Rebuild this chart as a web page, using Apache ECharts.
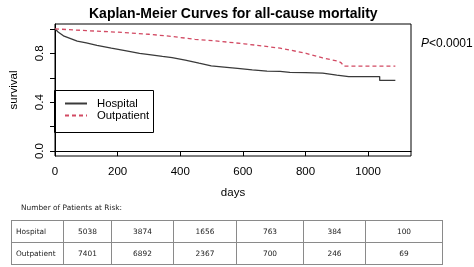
<!DOCTYPE html>
<html>
<head>
<meta charset="utf-8">
<script src="https://cdn.jsdelivr.net/npm/echarts@6/dist/echarts.min.js"></script>
<style>
  html, body { margin: 0; padding: 0; background: #fff; }
  #km_chart { position: absolute; left: 0; top: 0; width: 474px; height: 267px; }
  #risk_title { position: absolute; left: 21px; top: 203px; font: 7.4px "DejaVu Sans", sans-serif; color: #222; }
  #risk_table { position: absolute; left: 11px; top: 220px; border-collapse: collapse; font: 7.4px "DejaVu Sans", sans-serif; color: #222; }
  #risk_table td { border: 1px solid #8a8a8a; height: 21px; padding: 0; text-align: center; }
  #risk_table td.lab { text-align: left; padding-left: 4px; }
</style>
</head>
<body>
<div id="km_chart"></div>
<div id="risk_title">Number of Patients at Risk:</div>
<table id="risk_table"></table>
<script>
// survival curves: [days, survival]
var hospital = [[0, 1.0], [10, 0.975], [29, 0.94], [50, 0.92], [71, 0.90], [100, 0.885], [134, 0.866],
  [180, 0.843], [228, 0.82], [270, 0.80], [301, 0.79], [343, 0.775], [374, 0.765], [416, 0.745],
  [460, 0.72], [499, 0.698], [540, 0.688], [583, 0.677], [630, 0.665], [677, 0.655], [719, 0.652],
  [750, 0.645], [800, 0.642], [855, 0.638], [900, 0.622], [938, 0.61], [1000, 0.61], [1037, 0.61],
  [1037, 0.578], [1087, 0.578]];
var outpatient = [[0, 1.0], [100, 0.986], [200, 0.973], [300, 0.956], [374, 0.938], [447, 0.915],
  [520, 0.90], [604, 0.878], [680, 0.855], [719, 0.842], [750, 0.827], [802, 0.80], [855, 0.762],
  [907, 0.735], [915, 0.72], [922, 0.695], [1087, 0.695]];

var xTicks = [0, 200, 400, 600, 800, 1000];
var yTicks = [0, 0.2, 0.4, 0.6, 0.8, 1.0];
var yLabels = [0, 0.4, 0.8];

// numbers at risk table
var riskCols = [52, 48, 62, 63, 67, 62, 77];
var riskHospital = [5038, 3874, 1656, 763, 384, 100];
var riskOutpatient = [7401, 6892, 2367, 700, 246, 69];

var tbl = document.getElementById('risk_table');
[['Hospital', riskHospital], ['Outpatient', riskOutpatient]].forEach(function (row) {
  var tr = document.createElement('tr');
  var td = document.createElement('td');
  td.className = 'lab';
  td.textContent = row[0];
  td.style.width = (riskCols[0] - 5) + 'px';
  tr.appendChild(td);
  row[1].forEach(function (v, i) {
    var c = document.createElement('td');
    c.textContent = v;
    c.style.width = (riskCols[i + 1] - 1) + 'px';
    tr.appendChild(c);
  });
  tbl.appendChild(tr);
});

var myChart = echarts.init(document.getElementById('km_chart'));
var font = 'Liberation Sans';

option = {
    animation: false,
    title: {
        text: 'Kaplan-Meier Curves for all-cause mortality',
        left: 84,
        top: 2,
        textStyle: { fontFamily: font, fontSize: 14, fontWeight: 'bold', color: '#000' }
    },
    legend: {
        orient: 'vertical',
        left: 54,
        top: 90,
        padding: [8, 8, 7, 10],
        itemGap: 1,
        itemWidth: 22,
        itemHeight: 12,
        itemStyle: { opacity: 0 },
        textStyle: { fontFamily: font, fontSize: 11.3, color: '#000', padding: [0, 0, 0, 5] },
        data: ['Hospital', 'Outpatient']
    },
    graphic: [{
        type: 'text',
        left: 421,
        top: 38,
        style: {
            text: '{i|P}<0.0001',
            font: '12px Liberation Sans',
            fill: '#000',
            rich: { i: { fontStyle: 'italic', fontFamily: font, fontSize: 12 } }
        }
    }, {
        // legend frame
        type: 'rect',
        z: 100,
        shape: { x: 54.5, y: 90.5, width: 99, height: 42 },
        style: { fill: null, stroke: '#000', lineWidth: 1 }
    }],
    grid: {
        left: 51, top: 24, width: 360, height: 132,
        show: true, borderColor: '#000', borderWidth: 1
    },
    xAxis: {
        type: 'value',
        min: 0,
        max: 1137,
        name: 'days',
        nameLocation: 'middle',
        nameGap: 31,
        nameTextStyle: { fontFamily: font, fontSize: 11.5, color: '#000' },
        axisLine: { show: true, lineStyle: { color: '#000' } },
        axisTick: { show: true, length: 5, customValues: xTicks, lineStyle: { color: '#000' } },
        axisLabel: {
            customValues: xTicks, margin: 10, fontFamily: font, fontSize: 11.5, color: '#000',
            formatter: function (v) { return String(v); }
        },
        splitLine: { show: false }
    },
    yAxis: {
        type: 'value',
        min: -0.04,
        max: 1.04,
        name: 'survival',
        nameLocation: 'middle',
        nameGap: 35,
        nameRotate: 90,
        nameTextStyle: { fontFamily: font, fontSize: 11.5, color: '#000' },
        axisLine: { show: true, lineStyle: { color: '#000' } },
        axisTick: { show: true, length: 5, customValues: yTicks, lineStyle: { color: '#000' } },
        axisLabel: {
            customValues: yLabels, rotate: 90, margin: 9,
            fontFamily: font, fontSize: 11.5, color: '#000',
            formatter: function (v) { return v.toFixed(1); }
        },
        splitLine: { show: false }
    },
    series: [
        {
            name: 'Hospital',
            type: 'line',
            symbol: 'none',
            data: hospital,
            lineStyle: { color: '#3a3a3a', width: 1.3 },
            itemStyle: { color: '#3a3a3a' }
        },
        {
            name: 'Outpatient',
            type: 'line',
            symbol: 'none',
            data: outpatient,
            lineStyle: { color: '#d24a63', width: 1.3, type: [4, 3] },
            itemStyle: { color: '#d24a63' }
        }
    ]
};
myChart.setOption(option);
</script>
</body>
</html>
